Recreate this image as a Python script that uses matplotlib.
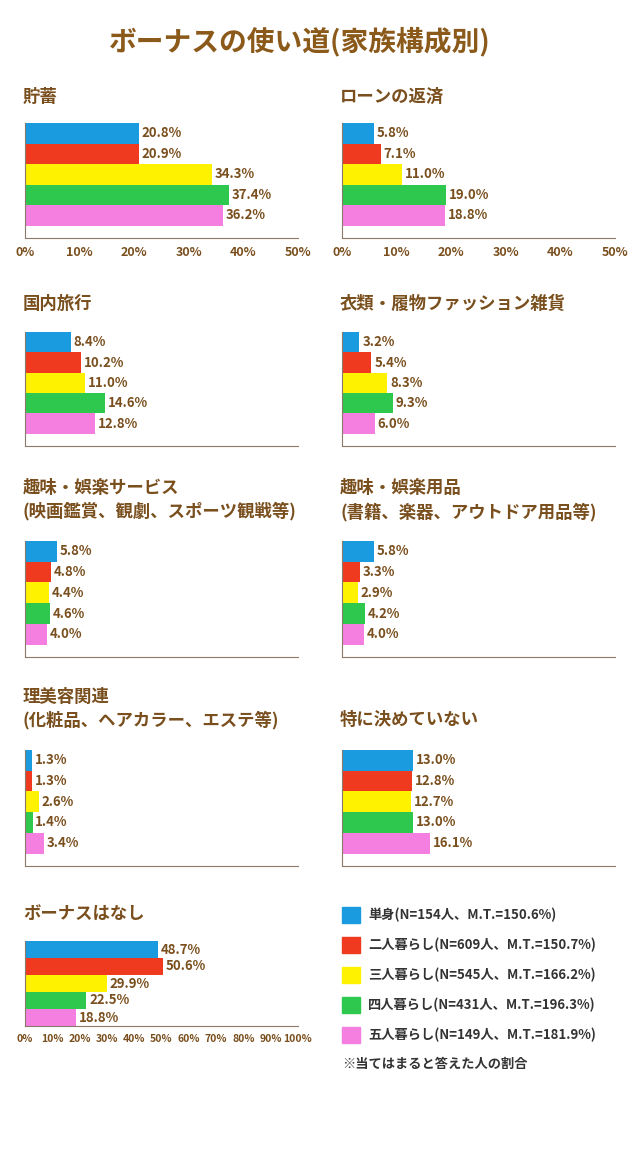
import matplotlib
matplotlib.use("Agg")
import matplotlib.pyplot as plt

plt.rcParams['font.family'] = ['Noto Sans CJK JP']

series = ["単身(N=154人、M.T.=150.6%)", "二人暮らし(N=609人、M.T.=150.7%)",
          "三人暮らし(N=545人、M.T.=166.2%)", "四人暮らし(N=431人、M.T.=196.3%)",
          "五人暮らし(N=149人、M.T.=181.9%)"]
colors = ["#1a9be0", "#f03a1f", "#fff200", "#2dc84d", "#f57fe0"]

titles = ["貯蓄", "ローンの返済", "国内旅行", "衣類・履物ファッション雑貨",
          "趣味・娯楽サービス\n(映画鑑賞、観劇、スポーツ観戦等)",
          "趣味・娯楽用品\n(書籍、楽器、アウトドア用品等)",
          "理美容関連\n(化粧品、ヘアカラー、エステ等)", "特に決めていない", "ボーナスはなし"]
savings = [20.8, 20.9, 34.3, 37.4, 36.2]
loan = [5.8, 7.1, 11.0, 19.0, 18.8]
travel = [8.4, 10.2, 11.0, 14.6, 12.8]
clothes = [3.2, 5.4, 8.3, 9.3, 6.0]
hobby_service = [5.8, 4.8, 4.4, 4.6, 4.0]
hobby_goods = [5.8, 3.3, 2.9, 4.2, 4.0]
beauty = [1.3, 1.3, 2.6, 1.4, 3.4]
undecided = [13.0, 12.8, 12.7, 13.0, 16.1]
no_bonus = [48.7, 50.6, 29.9, 22.5, 18.8]
data = [savings, loan, travel, clothes, hobby_service, hobby_goods, beauty, undecided, no_bonus]

TXT = "#7a4f1e"
W, H = 640, 1150
fig = plt.figure(figsize=(6.4, 11.5), dpi=100)
fig.patch.set_facecolor("white")
fig.text(300/W, 1-42/H, "ボーナスの使い道(家族構成別)", ha="center", va="center",
         fontsize=20, fontweight="bold", color="#8b5a1a")

# (x_left, y_top, y_bottom, title_y, xmax, ticks)
panels = [
    (25, 123, 238, 97, 50, True), (342, 123, 238, 97, 50, True),
    (25, 332, 446, 304, 50, False), (342, 332, 446, 304, 50, False),
    (25, 541, 657, 500, 50, False), (342, 541, 657, 500, 50, False),
    (25, 750, 866, 709, 50, False), (342, 750, 866, 720, 50, False),
    (25, 941, 1026, 914, 100, True),
]
aw = 273
for i, (x, yt, yb, ty, xmax, ticks) in enumerate(panels):
    ax = fig.add_axes([x/W, 1-yb/H, aw/W, (yb-yt)/H])
    vals = data[i]
    ax.barh(range(5), vals, height=1.0, color=colors)
    ax.set_ylim(4.5 + (0.0 if i == 8 else 0.6), -0.5)
    ax.set_xlim(0, xmax)
    for j, v in enumerate(vals):
        ax.text(v + xmax*0.01, j, f"{v:.1f}%", va="center", ha="left",
                fontsize=9.5, fontweight="bold", color=TXT)
    for s in ["top", "right"]:
        ax.spines[s].set_visible(False)
    for s in ["left", "bottom"]:
        ax.spines[s].set_color("#8a7a6a")
    ax.set_yticks([])
    if ticks:
        step = 10
        tv = list(range(0, xmax + 1, step))
        ax.set_xticks(tv)
        ax.set_xticklabels([f"{t}%" for t in tv], fontsize=9 if xmax == 50 else 7.5,
                           fontweight="bold", color=TXT)
        ax.tick_params(axis="x", length=0, pad=6)
    else:
        ax.set_xticks([])
    fig.text((x-2)/W, 1-ty/H, titles[i], ha="left", va="center", fontsize=12.5,
             fontweight="bold", color=TXT, linespacing=1.35)

# legend
for k in range(5):
    yy = 915 + k*30
    fig.patches.append(plt.Rectangle((342/W, 1-(yy+8)/H), 18/W, 16/H,
                                     transform=fig.transFigure, color=colors[k]))
    fig.text(368/W, 1-yy/H, series[k], ha="left", va="center", fontsize=9.5,
             fontweight="bold", color="#333333")
fig.text(342/W, 1-1064/H, "※当てはまると答えた人の割合", ha="left", va="center",
         fontsize=9.5, fontweight="bold", color="#333333")

fig.savefig("out.png", dpi=100, facecolor="white")
